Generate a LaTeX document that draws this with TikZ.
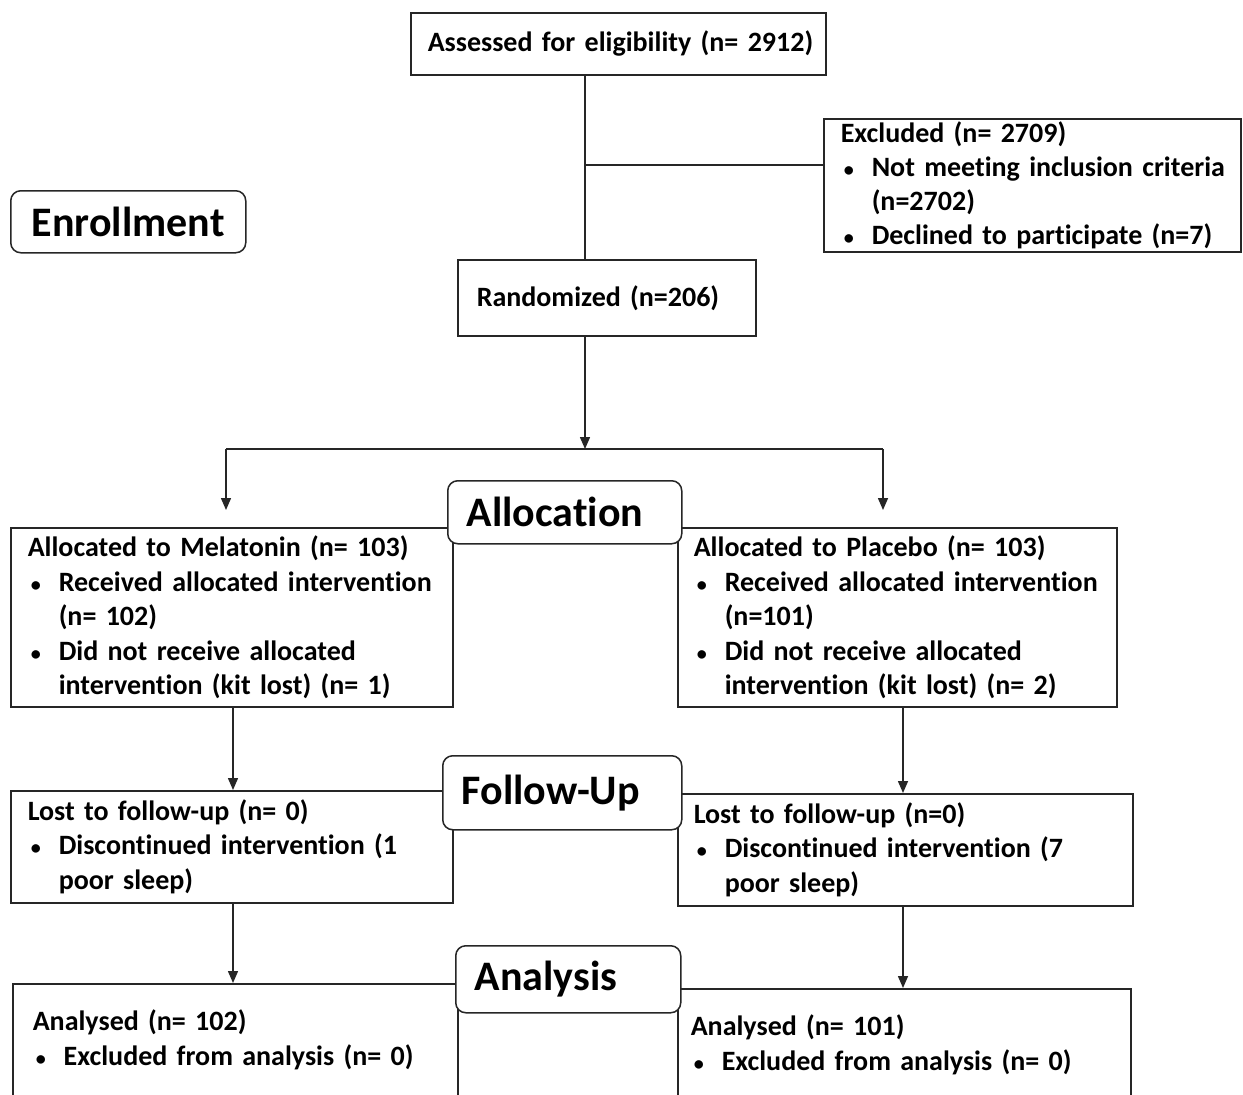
\documentclass[tikz,border=0pt]{standalone}
\usepackage{fontspec}
\setmainfont{Carlito}[Ligatures={NoCommon},WordSpace=0.85]
\usetikzlibrary{arrows.meta}
\newcommand{\smbul}{{\fontsize{20}{20}\selectfont\textbullet}}
\newcommand{\bul}[1]{\mbox{\hspace*{3pt}\makebox[28pt][l]{\smbul}#1}}
\newcommand{\ind}[1]{\mbox{\hspace*{31pt}#1}}
\newcommand{\lin}[1]{\mbox{#1}}
\tikzset{
 box/.style={draw=black!85, line width=1.5pt, rectangle, anchor=north west, inner xsep=17pt, inner ysep=0pt, align=left, font=\fontsize{28}{34.5}\selectfont\bfseries, fill=white},
 stage/.style={box, rounded corners=10pt, font=\fontsize{42}{50}\selectfont\bfseries, inner xsep=19pt},
 conn/.style={line width=1.5pt, draw=black!85},
 arr/.style={conn, -{Triangle[length=12pt,width=10pt]}}
}
\begin{document}
\begin{tikzpicture}[x=1pt,y=-1pt]
\clip (0,0) rectangle (1243,1095);
\fill[white] (0,0) rectangle (1243,1095);
\node[box, minimum width=415pt, minimum height=62pt, text width=381pt] (assess) at (410,12) {\lin{Assessed for eligibility (n= 2912)}};
\node[box, minimum width=417pt, minimum height=133pt, text width=383pt, font=\fontsize{28}{34}\selectfont\bfseries] (excl) at (823,118)
 {\lin{Excluded (n= 2709)}\\ \bul{Not meeting inclusion criteria}\\ \ind{(n=2702)}\\ \bul{Declined to participate (n=7)}};
\node[box, inner xsep=19pt, minimum width=298pt, minimum height=76pt, text width=260pt] (rand) at (457,259) {\lin{Randomized (n=206)}};
\node[box, minimum width=442pt, minimum height=179pt, text width=408pt] (mel) at (10,527)
 {\lin{Allocated to Melatonin (n= 103)}\\ \bul{Received allocated intervention}\\ \ind{(n= 102)}\\ \bul{Did not receive allocated}\\ \ind{intervention (kit lost) (n= 1)}};
\node[box, inner xsep=16pt, minimum width=439pt, minimum height=179pt, text width=407pt] (plac) at (677,527)
 {\lin{Allocated to Placebo (n= 103)}\\ \bul{Received allocated intervention}\\ \ind{(n=101)}\\ \bul{Did not receive allocated}\\ \ind{intervention (kit lost) (n= 2)}};
\node[box, minimum width=442pt, minimum height=112pt, text width=408pt] (lostL) at (10,790)
 {\lin{Lost to follow-up (n= 0)}\\ \bul{Discontinued intervention (1}\\ \ind{poor sleep)}};
\node[box, inner xsep=16pt, minimum width=455pt, minimum height=112pt, text width=423pt] (lostR) at (677,793)
 {\lin{Lost to follow-up (n=0)}\\ \bul{Discontinued intervention (7}\\ \ind{poor sleep)}};
\node[box, inner xsep=20pt, minimum width=445pt, minimum height=112pt, text width=405pt] (anL) at (12,983)
 {\lin{Analysed (n= 102)}\\ \bul{Excluded from analysis (n= 0)}};
\node[box, inner xsep=13pt, minimum width=453pt, minimum height=112pt, text width=427pt] (anR) at (677,988)
 {\lin{Analysed (n= 101)}\\ \bul{Excluded from analysis (n= 0)}};
% connectors
\coordinate (jA) at (585,165);
\draw[conn] (assess.south -| jA) -- (rand.north -| jA);
\draw[conn] (jA) -- (jA -| excl.west);
\coordinate (split) at (585,449);
\coordinate (sL) at (226,449);
\coordinate (sR) at (883,449);
\coordinate (eL) at (226,510);
\coordinate (eR) at (883,510);
\draw[arr] (rand.south -| split) -- (split);
\draw[conn] (sL) -- (sR);
\draw[arr] (sL) -- (eL);
\draw[arr] (sR) -- (eR);
\coordinate (cL) at (233,0);
\coordinate (cR) at (903,0);
\draw[arr] (mel.south -| cL) -- (lostL.north -| cL);
\draw[arr] (plac.south -| cR) -- (lostR.north -| cR);
\draw[arr] (lostL.south -| cL) -- (anL.north -| cL);
\draw[arr] (lostR.south -| cR) -- (anR.north -| cR);
% stage labels
\node[stage, minimum width=235pt, minimum height=62pt, text width=197pt, align=center] (enr) at (10,190) {Enrollment};
\node[stage, minimum width=234pt, minimum height=63pt, text width=196pt] (alloc) at (447,480) {Allocation};
\node[stage, minimum width=239pt, minimum height=74pt, text width=201pt] (fu) at (442,755) {Follow-Up};
\node[stage, minimum width=225pt, minimum height=67pt, text width=187pt] (ana) at (455,945) {Analysis};
\end{tikzpicture}
\end{document}
